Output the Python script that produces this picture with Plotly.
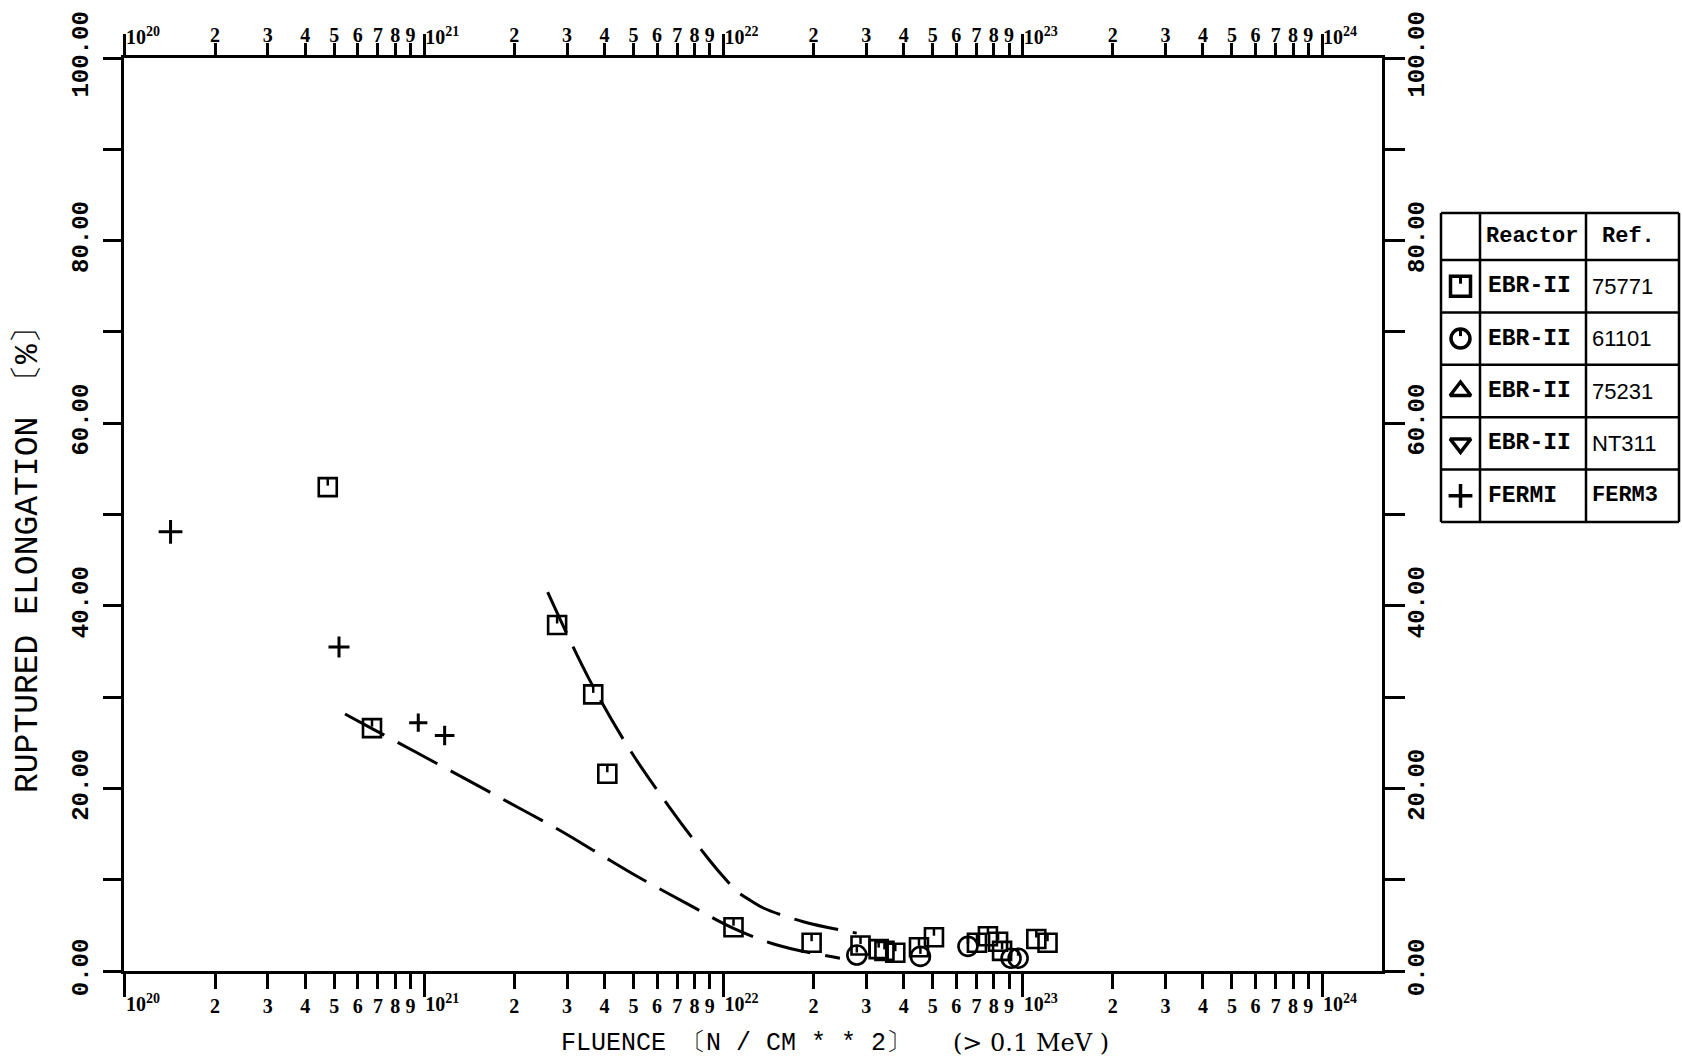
import plotly.graph_objects as go

# ---------------- data ----------------
# EBR-II 75771 (squares)
sq_x = [4.76e20, 6.69e20, 2.78e21, 3.67e21, 4.09e21, 1.08e22, 1.97e22, 2.87e22,
        3.30e22, 3.45e22, 3.75e22, 4.50e22, 5.05e22, 7.03e22, 7.65e22, 8.27e22,
        8.53e22, 1.11e23, 1.21e23]
sq_y = [53.0, 26.6, 37.9, 30.3, 21.6, 4.8, 3.1, 2.8,
        2.4, 2.2, 2.0, 2.6, 3.7, 3.1, 3.8, 3.2,
        2.2, 3.5, 3.1]
# EBR-II 61101 (circles)
circ_x = [2.79e22, 4.55e22, 6.56e22, 9.14e22, 9.65e22]
circ_y = [1.75, 1.6, 2.7, 1.4, 1.4]
# FERMI FERM3 (plus)
plus_x = [1.42e20, 5.19e20, 9.55e20, 1.17e21]
plus_y = [48.1, 35.5, 27.2, 25.8]
# hand-drawn trend curves
curveA_x = [2.585e21, 3.553e21, 4.871e21, 6.713e21, 8.896e21, 1.025e22, 1.107e22,
            1.227e22, 1.359e22, 1.848e22, 2.787e22]
curveA_y = [41.5, 32.0, 24.2, 17.6, 12.3, 9.9, 8.75, 7.75, 6.9, 5.4, 4.15]
curveB_x = [5.435e20, 6.74e20, 9.46e20, 1.571e21, 2.089e21, 2.77e21, 3.77e21, 5.19e21,
            7.63e21, 1.076e22, 1.51e22, 2.45e22]
curveB_y = [28.15, 26.5, 23.9, 20.0, 17.8, 15.6, 13.0, 10.3, 7.3, 4.7, 2.85, 1.4]

# tick labels
decades = [1e20, 1e21, 1e22, 1e23, 1e24]
decade_labels = ["10<sup>20</sup>", "10<sup>21</sup>", "10<sup>22</sup>",
                 "10<sup>23</sup>", "10<sup>24</sup>"]
digits = [2, 3, 4, 5, 6, 7, 8, 9]
y_ticks = [0, 10, 20, 30, 40, 50, 60, 70, 80, 90, 100]
y_labels = ["0.00", "", "20.00", "", "40.00", "", "60.00", "", "80.00", "", "100.00"]

# legend table content
legend_reactor = ["EBR-II", "EBR-II", "EBR-II", "EBR-II", "FERMI"]
legend_ref = ["75771", "61101", "75231", "NT311", "FERM3"]
legend_symbols = ["square-open", "circle-open", "triangle-up-open",
                  "triangle-down-open", "cross-thin-open"]
legend_header = ["Reactor", "Ref."]

# ---------------- layout helpers ----------------
W, H = 1682, 1061
ML, MR, MT, MB = 124, 2, 58, 90
PW, PH = W - ML - MR, H - MT - MB
PLOT_RIGHT = 1382


def px2x(px):
    return (px - ML) / PW


def py2y(py):
    return (H - MB - py) / PH


digit_vals, digit_text = [], []
for d in decades[:-1]:
    for k in digits:
        digit_vals.append(k * d)
        digit_text.append(str(k))

XRANGE = [19.9967, 24.2005]
BLACK = "black"

fig = go.Figure()

dash = "45px,15px"
fig.add_trace(go.Scatter(x=curveA_x, y=curveA_y, mode="lines",
                         line=dict(color=BLACK, width=3, dash=dash, shape="spline")))
fig.add_trace(go.Scatter(x=curveB_x, y=curveB_y, mode="lines",
                         line=dict(color=BLACK, width=3, dash=dash, shape="spline")))

fig.add_trace(go.Scatter(x=sq_x, y=sq_y, mode="markers",
                         marker=dict(symbol="square-open", size=18, color=BLACK, opacity=1,
                                     line=dict(color=BLACK, width=2.6))))
fig.add_trace(go.Scatter(x=sq_x, y=sq_y, mode="markers",
                         marker=dict(symbol="line-ns", size=5, angle=180, standoff=5,
                                     color=BLACK, opacity=1,
                                     line=dict(color=BLACK, width=2.5))))
fig.add_trace(go.Scatter(x=circ_x, y=circ_y, mode="markers",
                         marker=dict(symbol="circle-open", size=19, color=BLACK, opacity=1,
                                     line=dict(color=BLACK, width=2.6))))
fig.add_trace(go.Scatter(x=circ_x, y=circ_y, mode="markers",
                         marker=dict(symbol="line-ns", size=5, angle=180, standoff=6,
                                     color=BLACK, opacity=1,
                                     line=dict(color=BLACK, width=2.5))))
fig.add_trace(go.Scatter(x=plus_x, y=plus_y, mode="markers",
                         marker=dict(symbol="cross-thin-open", size=[17, 15, 13, 14],
                                     color=BLACK, opacity=1,
                                     line=dict(color=BLACK, width=3))))

# legend keys on a hidden little axis inside the table's first column
key_rows = [4, 3, 2, 1, 0]
fig.add_trace(go.Scatter(x=[0.5] * 5, y=key_rows, mode="markers",
                         xaxis="x5", yaxis="y5",
                         marker=dict(symbol=legend_symbols, size=[20, 19, 18, 18, 17],
                                     color=BLACK, opacity=1,
                                     line=dict(color=BLACK, width=3.5))))
fig.add_trace(go.Scatter(x=[0.5] * 2, y=key_rows[:2], mode="markers",
                         xaxis="x5", yaxis="y5",
                         marker=dict(symbol="line-ns", size=5, angle=180, standoff=6,
                                     color=BLACK, opacity=1,
                                     line=dict(color=BLACK, width=3))))

# invisible helpers so that the overlay axes get drawn
for ax in ["x2", "x3", "x4"]:
    fig.add_trace(go.Scatter(x=[decades[0]], y=[0], mode="markers", xaxis=ax, yaxis="y",
                             marker=dict(opacity=0), hoverinfo="skip"))
fig.add_trace(go.Scatter(x=[decades[0]], y=[0], mode="markers", yaxis="y2",
                         marker=dict(opacity=0), hoverinfo="skip"))

tickfont_x = dict(family="Liberation Serif", size=20, color=BLACK, weight="bold")
tickfont_y = dict(family="Liberation Mono", size=24, color=BLACK, weight="bold")
xdom = [0, px2x(PLOT_RIGHT)]

common_x = dict(type="log", range=XRANGE, showgrid=False, zeroline=False,
                tickcolor=BLACK, tickwidth=2.5, tickangle=0, tickfont=tickfont_x,
                tickmode="array")

fig.update_layout(
    width=W, height=H,
    margin=dict(l=ML, r=MR, t=MT, b=MB, pad=0, autoexpand=False),
    paper_bgcolor="white", plot_bgcolor="white",
    showlegend=False,
    # bottom: digit ticks + axis line
    xaxis=dict(**common_x, domain=xdom, anchor="y", side="bottom",
               tickvals=digit_vals, ticktext=digit_text,
               ticks="outside", ticklen=15,
               showline=True, linewidth=3, linecolor=BLACK),
    # bottom: decade ticks + 10^n labels
    xaxis3=dict(**common_x, overlaying="x", anchor="y", side="bottom",
                tickvals=decades, ticktext=decade_labels, ticks="outside", ticklen=25,
                ticklabelshift=18, ticklabelstandoff=-10, showline=False),
    # top: digit ticks + axis line
    xaxis2=dict(**common_x, overlaying="x", anchor="y", side="top",
                tickvals=digit_vals, ticktext=digit_text,
                ticks="outside", ticklen=12, ticklabelstandoff=-7,
                showline=True, linewidth=3, linecolor=BLACK),
    # top: decade ticks + 10^n labels
    xaxis4=dict(**common_x, overlaying="x", anchor="y", side="top",
                tickvals=decades, ticktext=decade_labels, ticks="outside", ticklen=23,
                ticklabelshift=18, ticklabelstandoff=-18, showline=False),
    yaxis=dict(range=[0, 100], domain=[0, 1], anchor="x", side="left",
               tickmode="array", tickvals=y_ticks, ticktext=y_labels,
               ticks="outside", ticklen=18, tickwidth=2.5, tickcolor=BLACK,
               tickangle=-90, tickfont=tickfont_y, ticklabelstandoff=5,
               showline=True, linewidth=3, linecolor=BLACK,
               showgrid=False, zeroline=False),
    yaxis2=dict(range=[0, 100], overlaying="y", anchor="x", side="right",
                tickmode="array", tickvals=y_ticks, ticktext=y_labels,
                ticks="outside", ticklen=20, tickwidth=2.5, tickcolor=BLACK,
                tickangle=-90, tickfont=tickfont_y, ticklabelstandoff=-10,
                showline=True, linewidth=3, linecolor=BLACK,
                showgrid=False, zeroline=False),
    xaxis5=dict(domain=[px2x(1441), px2x(1480)], range=[0, 1], visible=False,
                anchor="y5", fixedrange=True),
    yaxis5=dict(domain=[py2y(522), py2y(260)], range=[-0.5, 4.5], visible=False,
                anchor="x5", fixedrange=True),
)

# ---------------- titles ----------------
annos = []
annos.append(dict(text="RUPTURED ELONGATION 〔%〕", xref="paper", yref="paper",
                  x=px2x(28), y=py2y(552), textangle=-90, showarrow=False,
                  xanchor="center", yanchor="middle",
                  font=dict(family="Liberation Mono", size=33, color=BLACK)))
annos.append(dict(text="FLUENCE 〔N / CM * * 2〕", xref="paper", yref="paper",
                  x=px2x(559), y=py2y(1043), showarrow=False,
                  xanchor="left", yanchor="middle",
                  font=dict(family="Liberation Mono", size=25, color=BLACK)))
annos.append(dict(text="(> 0.1 MeV )", xref="paper", yref="paper",
                  x=px2x(951), y=py2y(1043), showarrow=False,
                  xanchor="left", yanchor="middle",
                  font=dict(family="DejaVu Serif", size=24, color=BLACK)))

# ---------------- legend table ----------------
col_px = [1441, 1480, 1586, 1679]
row_px = [213, 260, 312.4, 364.8, 417.2, 469.6, 522]
shapes = []
for cx in col_px:
    shapes.append(dict(type="line", xref="paper", yref="paper",
                       x0=px2x(cx), x1=px2x(cx), y0=py2y(row_px[0]), y1=py2y(row_px[-1]),
                       line=dict(color=BLACK, width=2.5)))
for ry in row_px:
    shapes.append(dict(type="line", xref="paper", yref="paper",
                       x0=px2x(col_px[0]), x1=px2x(col_px[-1]), y0=py2y(ry), y1=py2y(ry),
                       line=dict(color=BLACK, width=2.5)))

hdr_font = dict(family="Liberation Mono", size=22, color=BLACK, weight="bold")
annos.append(dict(text=legend_header[0], xref="paper", yref="paper",
                  x=px2x(1484), y=py2y(237), showarrow=False, xanchor="left",
                  yanchor="middle", font=hdr_font))
annos.append(dict(text=legend_header[1], xref="paper", yref="paper",
                  x=px2x(1600), y=py2y(237), showarrow=False, xanchor="left",
                  yanchor="middle", font=hdr_font))
for i in range(5):
    yc = (row_px[i + 1] + row_px[i + 2]) / 2
    annos.append(dict(text=legend_reactor[i], xref="paper", yref="paper",
                      x=px2x(1486), y=py2y(yc), showarrow=False, xanchor="left",
                      yanchor="middle",
                      font=dict(family="Liberation Mono", size=23, color=BLACK, weight="bold")))
    ref_font = (dict(family="Liberation Mono", size=22, color=BLACK, weight="bold")
                if legend_ref[i].startswith("FERM") else
                dict(family="Liberation Sans", size=22, color=BLACK))
    annos.append(dict(text=legend_ref[i], xref="paper", yref="paper",
                      x=px2x(1590), y=py2y(yc), showarrow=False, xanchor="left",
                      yanchor="middle", font=ref_font))

fig.update_layout(annotations=annos, shapes=shapes)

# remove the browser's default 8px body margin so the figure sits at the page origin
fig.write_html("out.html",
               config={"displayModeBar": False},
               post_script="document.body.style.margin='0px';document.body.style.padding='0px';")
